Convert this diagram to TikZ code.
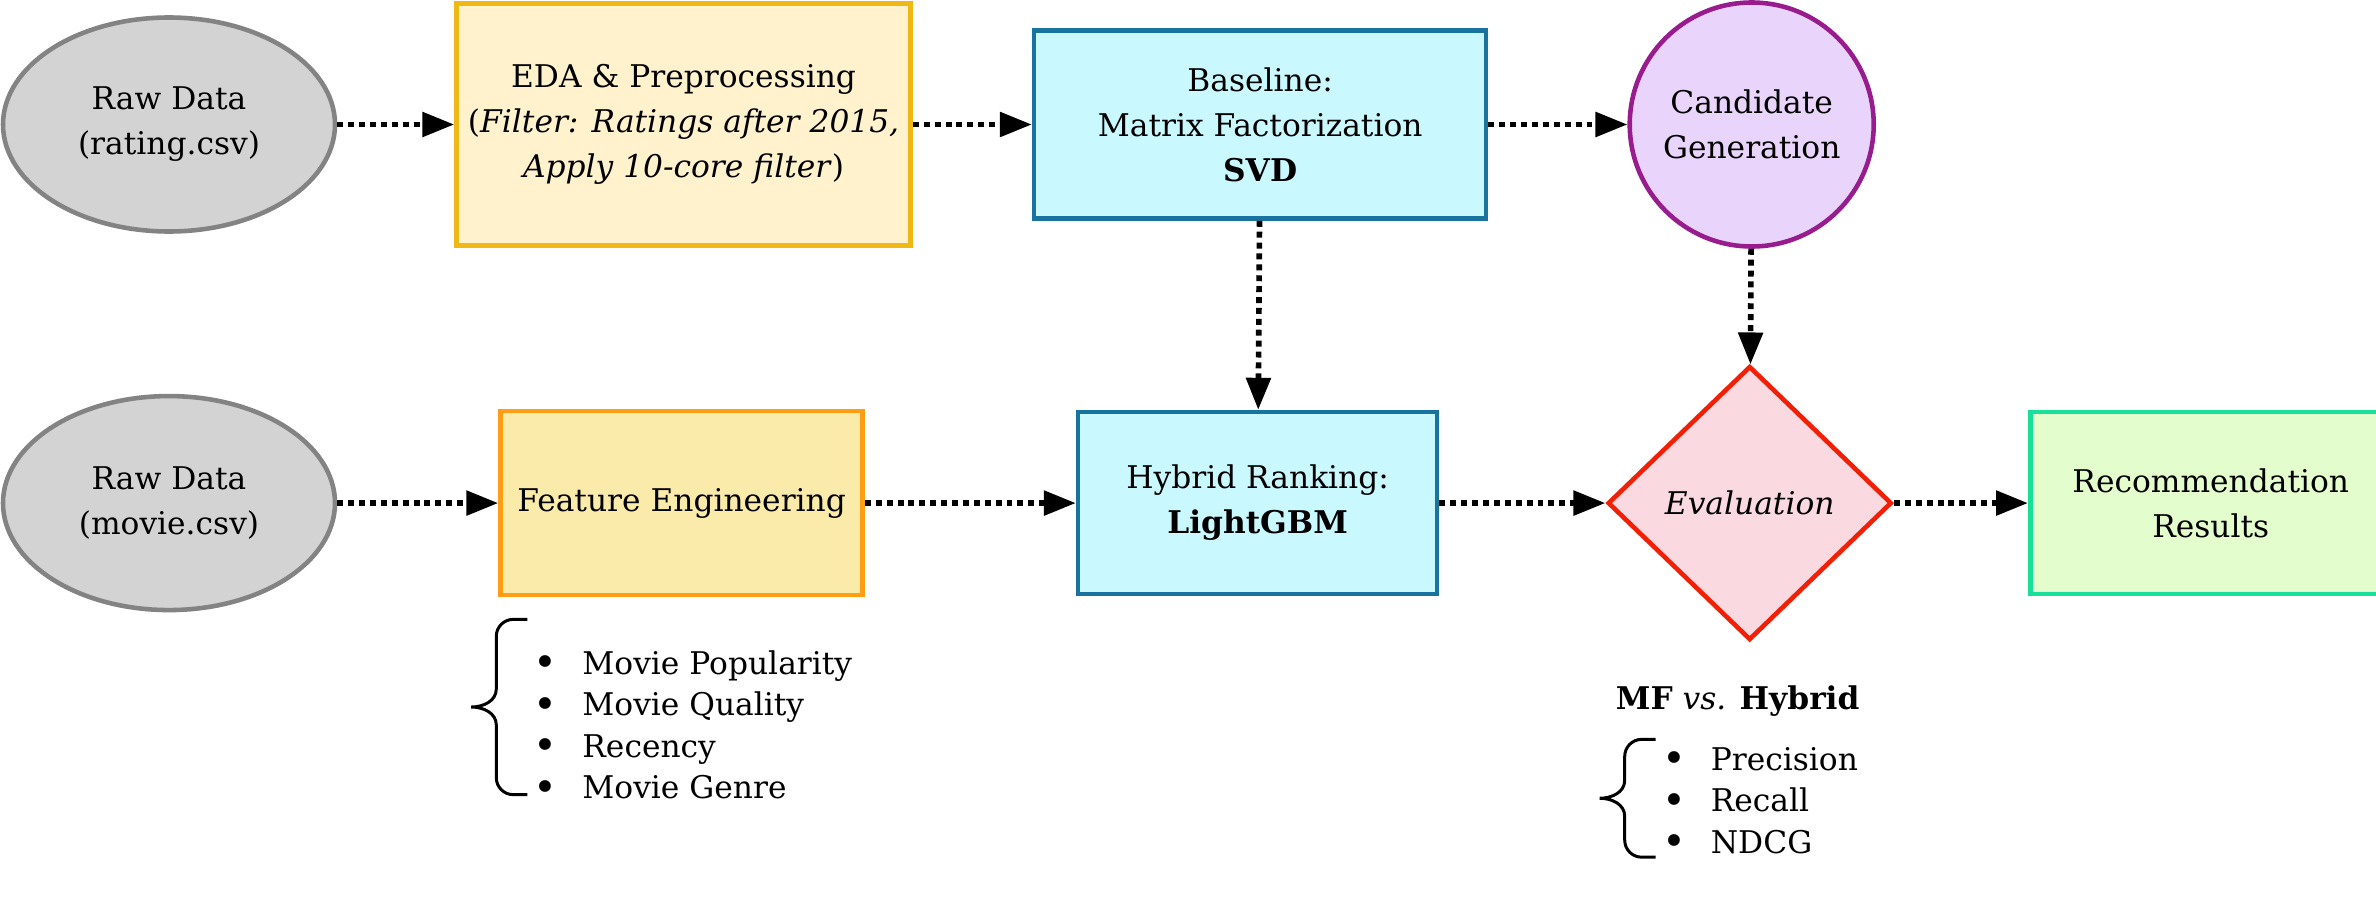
\documentclass[tikz,border=0pt]{standalone}
\usepackage{fontspec}
\setmainfont{DejaVu Serif}
\usetikzlibrary{positioning,shapes.geometric,arrows.meta,calc}

\definecolor{rawfill}{HTML}{D3D3D3}
\definecolor{rawline}{HTML}{838383}
\definecolor{prepfill}{HTML}{FFF2CC}
\definecolor{prepline}{HTML}{F0B814}
\definecolor{featfill}{HTML}{FAEBAA}
\definecolor{featline}{HTML}{FF9E15}
\definecolor{modelfill}{HTML}{C9F9FF}
\definecolor{modelline}{HTML}{18749E}
\definecolor{candfill}{HTML}{E9D4FC}
\definecolor{candline}{HTML}{981C8E}
\definecolor{evalfill}{HTML}{FAD9E1}
\definecolor{evalline}{HTML}{F21F05}
\definecolor{resfill}{HTML}{E4FDCC}
\definecolor{resline}{HTML}{18E09A}

\tikzset{
  base/.style={draw, line width=1.3pt, align=center, inner sep=0pt,
    font=\fontsize{8.9}{12.8}\selectfont},
  rawdata/.style={base, ellipse, fill=rawfill, draw=rawline,
    minimum width=3.32cm, minimum height=2.14cm},
  prep/.style={base, rectangle, fill=prepfill, draw=prepline},
  feat/.style={base, rectangle, fill=featfill, draw=featline},
  model/.style={base, rectangle, fill=modelfill, draw=modelline},
  cand/.style={base, circle, fill=candfill, draw=candline, minimum size=2.44cm},
  judge/.style={base, diamond, fill=evalfill, draw=evalline, aspect=1.04,
    minimum width=2.84cm, minimum height=2.74cm},
  result/.style={base, rectangle, fill=resfill, draw=resline},
  list/.style={inner sep=0pt, font=\fontsize{8.9}{11.8}\selectfont},
  bracepen/.style={line width=0.85pt},
  flow/.style={-{Triangle[length=3.2mm,width=2.4mm]}, line width=1.6pt,
    dash pattern=on 1.7pt off 1.4pt},
}

\newcommand\itembullet{\raisebox{-0.8pt}{\fontsize{11.5}{11.8}\selectfont\textbullet}}

% curly brace to the left of a list node: #2 top shift, #3 bottom shift
\newcommand\listbrace[3]{%
  \coordinate (bt) at ($(#1.north west)+(-0.06,#2)$);
  \coordinate (bb) at ($(#1.south west)+(-0.06,#3)$);
  \coordinate (bm) at ($(bt)!0.5!(bb)+(-0.56,0)$);
  \draw[bracepen] (bt) -- ++(-0.14,0) to[out=180,in=90] ++(-0.17,-0.17)
    -- ($(bm)+(0.25,0.18)$) to[out=-90,in=0] (bm)
    to[out=0,in=90] ++(0.25,-0.18)
    -- ($(bb)+(-0.31,0.17)$) to[out=-90,in=180] ++(0.17,-0.17) -- (bb);}

\begin{document}
\begin{tikzpicture}
\useasboundingbox (0,0) rectangle (23.76,-9.18);

% top row
\node[rawdata](rawrating) at (1.69,-1.245){Raw Data\\(rating.csv)};
\node[prep, minimum width=4.54cm, minimum height=2.42cm](eda)[right = 1.17cm of rawrating]
  {EDA \& Preprocessing\\(\textit{Filter: Ratings after 2015,}\\\textit{Apply 10-core filter})};
\node[model, minimum width=4.52cm, minimum height=1.88cm](svd)[right = 1.19cm of eda]
  {Baseline:\\Matrix Factorization\\\textbf{SVD}};
\node[cand](candidate)[right = 1.39cm of svd]{Candidate\\Generation};

% bottom row
\node[rawdata](rawmovie)[below = 1.6cm of rawrating]{Raw Data\\(movie.csv)};
\node[feat, minimum width=3.62cm, minimum height=1.84cm](feature)[right = 1.61cm of rawmovie]
  {Feature Engineering};
\node[model, minimum width=3.59cm, minimum height=1.82cm](hybrid)[right = 2.11cm of feature]
  {Hybrid Ranking:\\\textbf{LightGBM}};
\node[judge](eval)[right = 1.66cm of hybrid]{\textit{Evaluation}};
\node[result, minimum width=3.61cm, minimum height=1.82cm](results)[right = 1.34cm of eval]
  {Recommendation\\Results};

% notes under the boxes
\node[list](featlist)[below right = 0.47cm and 0.35cm of feature.south west]
  {\begin{tabular}{@{}c@{\hspace{7pt}}l@{}}
   \itembullet & Movie Popularity\\
   \itembullet & Movie Quality\\
   \itembullet & Recency\\
   \itembullet & Movie Genre
  \end{tabular}};
\listbrace{featlist}{0.25}{0.17}
\node[list](evallabel)[below = 0.43cm of eval, xshift=-0.12cm]
  {\textbf{MF} \textit{vs.} \textbf{Hybrid}};
\node[list](evallist)[below right = 0.98cm and -0.88cm of eval.south]
  {\begin{tabular}{@{}c@{\hspace{7pt}}l@{}}
   \itembullet & Precision\\
   \itembullet & Recall\\
   \itembullet & NDCG
  \end{tabular}};
\listbrace{evallist}{0.01}{0.09}

\path[flow]
(rawrating) edge (eda)
(eda) edge (svd)
(svd) edge (candidate)
(svd) edge (hybrid)
(candidate) edge (eval)
(rawmovie) edge (feature)
(feature) edge (hybrid)
(hybrid) edge (eval)
(eval) edge (results);

\end{tikzpicture}
\end{document}
